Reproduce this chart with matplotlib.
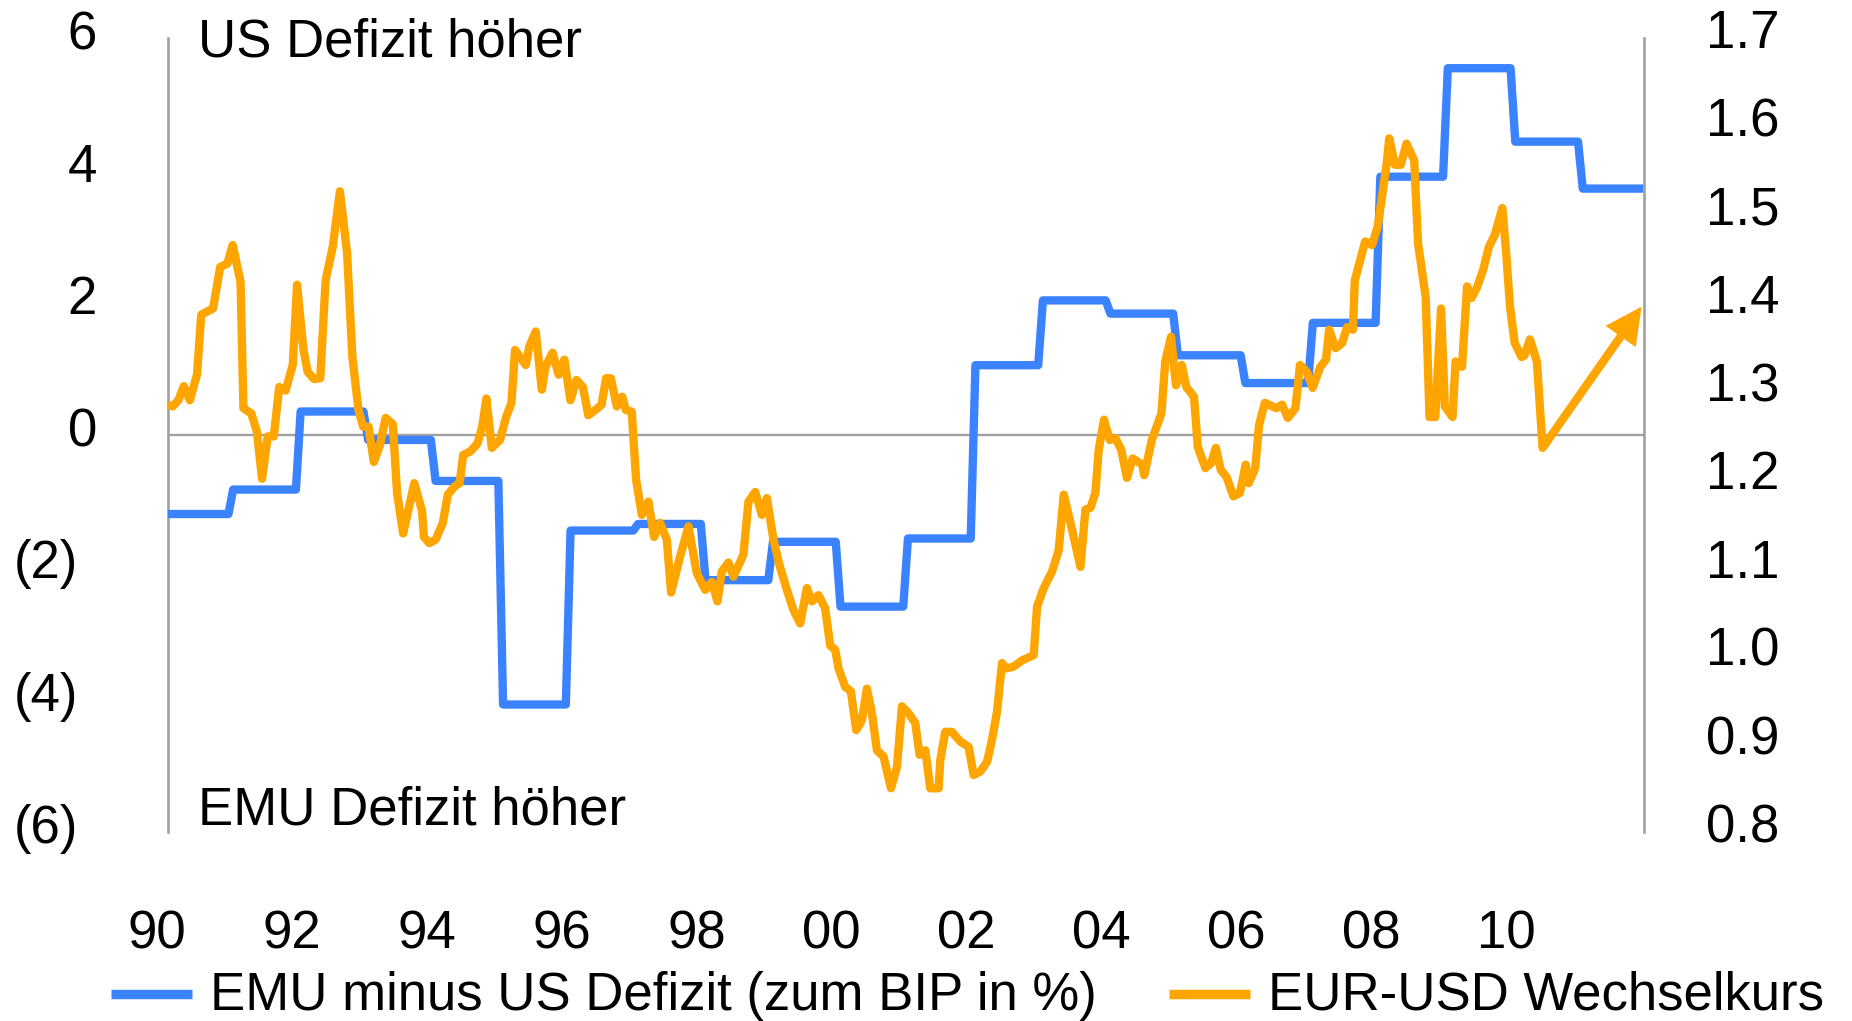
import matplotlib
matplotlib.use("Agg")
import matplotlib.pyplot as plt
from matplotlib import transforms as mtrans
import numpy as np

plt.rcParams['font.family'] = ['Liberation Sans', 'DejaVu Sans']

# ---------------- data ----------------
# EMU minus US deficit (% of GDP), annual values
deficit_years = [1990, 1991, 1992, 1993, 1994, 1995, 1996, 1997, 1998, 1999, 2000,
                 2001, 2002, 2003, 2004, 2005, 2006, 2007, 2008, 2009, 2010, 2011]
deficit_values = [-1.20, -0.83, 0.35, -0.08, -0.70, -4.08, -1.45, -1.35, -2.20, -1.62, -2.60,
                  -1.57, 1.05, 2.03, 1.83, 1.20, 0.78, 1.69, 3.90, 5.54, 4.43, 3.72]

# EUR-USD exchange rate (time in years, value)
eur_years = [
    1990.154, 1990.234, 1990.318, 1990.398, 1990.488, 1990.594, 1990.657, 1990.832, 1990.938,
    1991.044, 1991.123, 1991.240, 1991.282, 1991.399, 1991.483, 1991.558, 1991.642, 1991.732,
    1991.812, 1991.907, 1992.013, 1992.077, 1992.172, 1992.235, 1992.331, 1992.421, 1992.500,
    1992.606, 1992.712, 1992.818, 1992.897, 1992.987, 1993.056, 1993.136, 1993.215, 1993.305,
    1993.390, 1993.496, 1993.559, 1993.649, 1993.814, 1993.930, 1993.957, 1994.036, 1994.131,
    1994.237, 1994.311, 1994.407, 1994.486, 1994.539, 1994.645, 1994.751, 1994.820, 1994.883,
    1994.963, 1995.085, 1995.175, 1995.254, 1995.307, 1995.466, 1995.519, 1995.614, 1995.704,
    1995.757, 1995.863, 1995.953, 1996.038, 1996.128, 1996.218, 1996.313, 1996.393, 1996.499,
    1996.589, 1996.657, 1996.726, 1996.816, 1996.896, 1996.949, 1997.037, 1997.101, 1997.186,
    1997.284, 1997.368, 1997.457, 1997.556, 1997.620, 1997.754, 1997.877, 1998.001, 1998.125,
    1998.224, 1998.307, 1998.372, 1998.470, 1998.544, 1998.692, 1998.766, 1998.866, 1998.965,
    1999.039, 1999.137, 1999.226, 1999.336, 1999.434, 1999.533, 1999.632, 1999.706, 1999.805,
    1999.903, 1999.977, 2000.052, 2000.101, 2000.200, 2000.284, 2000.363, 2000.447, 2000.521,
    2000.596, 2000.670, 2000.768, 2000.878, 2000.967, 2001.041, 2001.139, 2001.238, 2001.302,
    2001.387, 2001.461, 2001.584, 2001.609, 2001.683, 2001.782, 2001.905, 2002.029, 2002.103,
    2002.202, 2002.302, 2002.376, 2002.450, 2002.524, 2002.588, 2002.697, 2002.821, 2002.993,
    2003.043, 2003.142, 2003.266, 2003.364, 2003.438, 2003.563, 2003.686, 2003.760, 2003.834,
    2003.908, 2003.957, 2004.035, 2004.120, 2004.205, 2004.290, 2004.375, 2004.461, 2004.602,
    2004.631, 2004.744, 2004.886, 2004.943, 2005.029, 2005.102, 2005.187, 2005.255, 2005.369,
    2005.425, 2005.539, 2005.624, 2005.693, 2005.766, 2005.851, 2005.953, 2006.049, 2006.135,
    2006.180, 2006.276, 2006.333, 2006.418, 2006.588, 2006.674, 2006.759, 2006.872, 2006.940,
    2007.042, 2007.127, 2007.241, 2007.325, 2007.371, 2007.468, 2007.564, 2007.638, 2007.723,
    2007.752, 2007.825, 2007.905, 2008.007, 2008.091, 2008.148, 2008.222, 2008.262, 2008.347,
    2008.433, 2008.518, 2008.632, 2008.689, 2008.802, 2008.859, 2008.944, 2009.030, 2009.086,
    2009.200, 2009.245, 2009.341, 2009.415, 2009.483, 2009.568, 2009.654, 2009.739, 2009.824,
    2009.938, 2009.995, 2010.052, 2010.121, 2010.223, 2010.268, 2010.347, 2010.450, 2010.535]
eur_values = [
    1.284, 1.282, 1.289, 1.305, 1.289, 1.318, 1.386, 1.393, 1.440,
    1.444, 1.465, 1.423, 1.280, 1.274, 1.253, 1.200, 1.248, 1.248,
    1.304, 1.300, 1.329, 1.420, 1.346, 1.321, 1.313, 1.314, 1.425,
    1.463, 1.526, 1.456, 1.338, 1.278, 1.259, 1.259, 1.219, 1.238,
    1.269, 1.262, 1.184, 1.138, 1.195, 1.163, 1.134, 1.127, 1.131,
    1.150, 1.182, 1.191, 1.195, 1.227, 1.231, 1.240, 1.259, 1.291,
    1.235, 1.244, 1.270, 1.286, 1.346, 1.329, 1.350, 1.367, 1.301,
    1.327, 1.343, 1.318, 1.335, 1.289, 1.312, 1.304, 1.272, 1.278,
    1.284, 1.314, 1.314, 1.282, 1.293, 1.278, 1.276, 1.199, 1.159,
    1.174, 1.134, 1.150, 1.131, 1.071, 1.112, 1.146, 1.093, 1.074,
    1.083, 1.061, 1.095, 1.105, 1.089, 1.114, 1.174, 1.185, 1.159,
    1.178, 1.131, 1.102, 1.074, 1.051, 1.036, 1.076, 1.061, 1.068,
    1.053, 1.011, 1.006, 0.985, 0.964, 0.959, 0.915, 0.926, 0.962,
    0.934, 0.892, 0.885, 0.849, 0.873, 0.942, 0.934, 0.923, 0.887,
    0.892, 0.849, 0.849, 0.881, 0.913, 0.913, 0.902, 0.896, 0.864,
    0.868, 0.879, 0.904, 0.936, 0.991, 0.985, 0.987, 0.994, 1.000,
    1.055, 1.076, 1.095, 1.119, 1.182, 1.142, 1.100, 1.165, 1.167,
    1.184, 1.233, 1.267, 1.244, 1.246, 1.233, 1.201, 1.223, 1.216,
    1.204, 1.244, 1.274, 1.333, 1.361, 1.306, 1.329, 1.304, 1.293,
    1.236, 1.212, 1.218, 1.235, 1.210, 1.202, 1.180, 1.184, 1.216,
    1.195, 1.212, 1.261, 1.286, 1.280, 1.284, 1.269, 1.280, 1.329,
    1.321, 1.303, 1.327, 1.335, 1.369, 1.348, 1.354, 1.372, 1.369,
    1.425, 1.446, 1.469, 1.465, 1.486, 1.516, 1.556, 1.586, 1.556,
    1.556, 1.580, 1.561, 1.467, 1.406, 1.270, 1.270, 1.393, 1.282,
    1.270, 1.333, 1.327, 1.418, 1.405, 1.418, 1.437, 1.463, 1.476,
    1.507, 1.456, 1.395, 1.354, 1.338, 1.340, 1.358, 1.333, 1.235]

# forecast arrow (start = last observation, end = target)
eur_forecast_years = [2010.535, 2012.0]
eur_forecast_values = [1.235, 1.395]

left_ticks = [6, 4, 2, 0, -2, -4, -6]
left_labels = ['6', '4', '2', '0', '(2)', '(4)', '(6)']
right_ticks = [1.7, 1.6, 1.5, 1.4, 1.3, 1.2, 1.1, 1.0, 0.9, 0.8]
right_labels = ['1.7', '1.6', '1.5', '1.4', '1.3', '1.2', '1.1', '1.0', '0.9', '0.8']
x_ticks = [1990, 1992, 1994, 1996, 1998, 2000, 2002, 2004, 2006, 2008, 2010]
x_labels = ['90', '92', '94', '96', '98', '00', '02', '04', '06', '08', '10']

label_blue = 'EMU minus US Defizit (zum BIP in %)'
label_orange = 'EUR-USD Wechselkurs'
text_top = 'US Defizit höher'
text_bottom = 'EMU Defizit höher'

# ---------------- style ----------------
BLUE = '#3B82FF'
ORANGE = '#FFA500'
GRAY = '#A0A0A0'
FS = 38
LW = 6.0
W, H = 1852, 1021
X_START, X_END = 1990.157, 2012.03
STEP_A, STEP_B = 0.06, 0.13   # step transition (fraction of year)

fig = plt.figure(figsize=(W / 100, H / 100), dpi=100)
ax = fig.add_axes([167.5 / W, (H - 831.5) / H, (1643.5 - 167.5) / W, (831.5 - 37.8) / H])
ax2 = ax.twinx()

# step series built from annual values
bx, by = [], []
for i, (yr, v) in enumerate(zip(deficit_years, deficit_values)):
    x0 = X_START if i == 0 else yr + STEP_B
    x1 = X_END if i == len(deficit_years) - 1 else yr + 1 + STEP_A
    bx += [x0, x1]
    by += [v, v]

ax.axhline(0, color=GRAY, lw=1.7, zorder=1)
l1, = ax.plot(bx, by, color=BLUE, lw=LW, solid_joinstyle='round',
              solid_capstyle='butt', zorder=3, label=label_blue)
l2, = ax2.plot(eur_years, eur_values, color=ORANGE, lw=LW, solid_joinstyle='round',
               solid_capstyle='butt', zorder=3, label=label_orange)
ax2.annotate('', xy=(eur_forecast_years[1], eur_forecast_values[1]),
             xytext=(eur_forecast_years[0], eur_forecast_values[0]),
             arrowprops=dict(arrowstyle='-|>,head_length=0.55,head_width=0.28',
                             mutation_scale=30, color=ORANGE, lw=LW,
                             shrinkA=0, shrinkB=0, joinstyle='miter'))

ax.set_xlim(X_START, X_END)
ax.set_ylim(-6, 6)
ax2.set_ylim(0.8, 1.7)

for a in (ax, ax2):
    a.set_xticks([])
    a.set_yticks([])
    for s in a.spines.values():
        s.set_visible(False)
ax.spines['left'].set_visible(True)
ax.spines['left'].set_color(GRAY)
ax.spines['left'].set_linewidth(1.9)
ax2.spines['right'].set_visible(True)
ax2.spines['right'].set_color(GRAY)
ax2.spines['right'].set_linewidth(1.9)

# tick labels
tl = mtrans.blended_transform_factory(fig.transFigure, ax.transData)
tl = mtrans.offset_copy(tl, fig=fig, y=-11.5, units='dots')
for v, lab in zip(left_ticks, left_labels):
    xr = 97 if v >= 0 else 78
    ax.text(xr / W, v, lab, transform=tl, ha='right', va='baseline', fontsize=FS)

tr = mtrans.blended_transform_factory(fig.transFigure, ax2.transData)
tr = mtrans.offset_copy(tr, fig=fig, y=-10.7, units='dots')
for v, lab in zip(right_ticks, right_labels):
    ax2.text(1706 / W, v, lab, transform=tr, ha='left', va='baseline', fontsize=FS)

tx = mtrans.blended_transform_factory(ax.transData, fig.transFigure)
for v, lab in zip(x_ticks, x_labels):
    ax.text(v, 1 - 948 / H, lab, transform=tx, ha='center', va='baseline',
            fontsize=FS, clip_on=False)

fig.text(198 / W, 1 - 56.7 / H, text_top, ha='left', va='baseline', fontsize=FS)
fig.text(198 / W, 1 - 824.4 / H, text_bottom, ha='left', va='baseline', fontsize=FS)

leg = fig.legend(handles=[l1, l2], loc='center left',
                 bbox_to_anchor=(111 / W, (H - 995.5) / H), ncol=2, frameon=False,
                 fontsize=FS, handlelength=1.53, handletextpad=0.34,
                 columnspacing=1.38, borderpad=0, borderaxespad=0, handleheight=0.3)
for h in leg.legend_handles:
    h.set_linewidth(6.8)
    h.set_solid_capstyle('butt')

fig.savefig('out.png', dpi=100)
